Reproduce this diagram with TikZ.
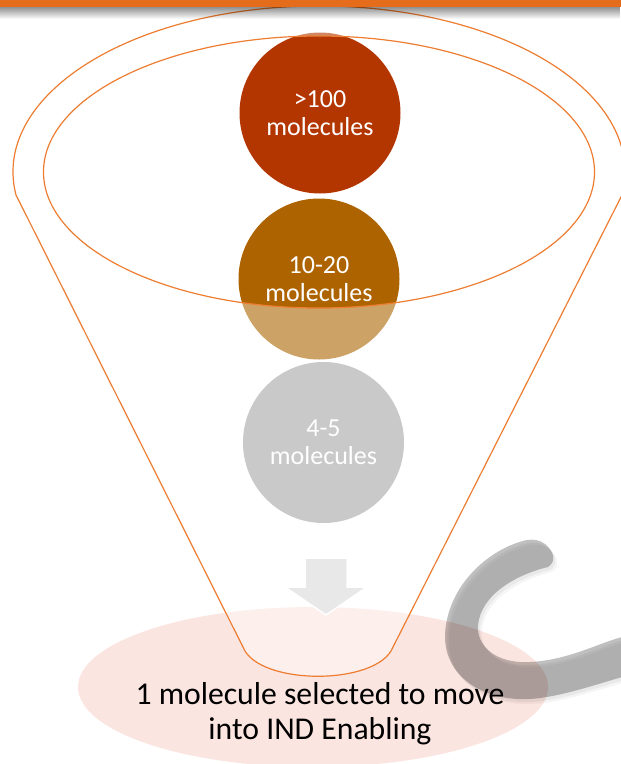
\documentclass[tikz,border=0pt]{standalone}
\usepackage{fontspec}
\setmainfont{Carlito}
\usetikzlibrary{fadings,shapes.geometric}

\definecolor{barorange}{HTML}{E46C1A}
\definecolor{funnelline}{HTML}{ED7D31}
\definecolor{redstage}{HTML}{B33600}
\definecolor{brownstage}{HTML}{AD6400}
\definecolor{graystage}{HTML}{A5A5A5}
\definecolor{arrowgray}{HTML}{D9D9D9}
\definecolor{resultpink}{HTML}{FBE5E0}

\tikzset{
  stage/.style={circle, minimum size=161pt, inner sep=0pt, text=white,
    align=center, font=\fontsize{26}{28}\selectfont},
  funnelstroke/.style={draw=funnelline, line width=1.2pt},
}

% outline of the tapered grey swoosh
\newcommand{\swooshpath}{
  (527,540) .. controls (490,548) and (447,585) .. (445,635)
  .. controls (444,680) and (490,705) .. (540,698)
  .. controls (570,694) and (600,683) .. (626,676)
  -- (626,636)
  .. controls (600,642) and (570,660) .. (530,662)
  .. controls (495,664) and (476,645) .. (478,625)
  .. controls (481,595) and (515,575) .. (548,567)
  .. controls (556,562) and (555,552) .. (545,544)
  .. controls (540,540) and (533,539) .. (527,540) -- cycle}

\begin{document}
\begin{tikzpicture}[x=1pt,y=-1pt]
\useasboundingbox (0,0) rectangle (621,764);
\begin{scope}
\clip (0,0) rectangle (621,764);

% result ellipse at the spout
\node[ellipse, fill=resultpink, minimum width=470pt, minimum height=160pt,
      inner sep=0pt] (result) at (313,687) {};

% grey swoosh with a faint offset shadow
\fill[black, opacity=0.05, shift={(2,3)}] \swooshpath;
\fill[black, opacity=0.04, shift={(4,5)}] \swooshpath;
\fill[black, opacity=0.25] \swooshpath;

% the three stages
\node[stage, fill=redstage]   (s1) at (320,113) {>100\\molecules};
\node[stage, fill=brownstage] (s2) at (319,279) {10-20\\molecules};
\node[stage, fill=graystage]  (s3) at (323.5,442.5) {4-5\\molecules};

% down arrow into the spout
\filldraw[fill=arrowgray, draw=white, line width=1.5pt, line join=miter]
  (305,558) -- (347,558) -- (347,587) -- (367,587) -- (326,615)
  -- (285,587) -- (305,587) -- cycle;

% translucent funnel body (the mouth is left open)
\fill[white, fill opacity=0.4, even odd rule]
  (16,195) arc[start angle=188, end angle=-8, x radius=306pt, y radius=166pt]
  -- (393,647) .. controls (378,686) and (258,686) .. (243,647) -- cycle
  (319,172) ellipse[x radius=275.5pt, y radius=136pt];

% funnel outline
\draw[funnelstroke, line join=round]
  (16,195) arc[start angle=188, end angle=-8, x radius=306pt, y radius=166pt]
  -- (393,647) .. controls (378,686) and (258,686) .. (243,647) -- cycle;
\draw[funnelstroke] (319,172) ellipse[x radius=275.5pt, y radius=136pt];

% caption
\node[align=center, text=black, font=\fontsize{31.7}{35}\selectfont]
  (caption) at (320,714) {1 molecule selected to move\\into IND Enabling};

% title bar with its drop shadow
\fill[black, fill opacity=0.45, path fading=south] (0,6.5) rectangle (621,19);
\fill[barorange] (0,0) rectangle (621,6.5);
\end{scope}
\end{tikzpicture}
\end{document}
